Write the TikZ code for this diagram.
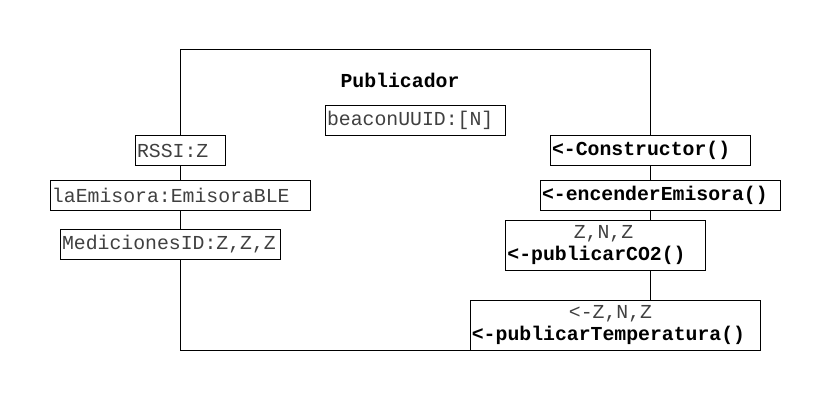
\documentclass[tikz,border=0pt]{standalone}
\usepackage{fontspec}
\newfontfamily\cour{Liberation Mono}
\begin{document}
\begin{tikzpicture}[x=1pt,y=-1pt,
  frame/.style={draw=black, line width=1pt},
  box/.style={draw=black, fill=white, line width=1pt, anchor=north west,
    inner xsep=1.5pt, inner ysep=0pt, minimum height=30pt,
    font=\cour\fontsize{19.8}{22}\selectfont, text=black!75},
  lbox/.style={box, align=left},
  cbox/.style={box, align=center, inner xsep=0pt, minimum height=50pt},
  bt/.style={text=black},
  title/.style={font=\cour\bfseries\fontsize{19.8}{22}\selectfont, text=black}]
\useasboundingbox (0,0) rectangle (831,401);
% container
\coordinate (tl) at (180,50);
\coordinate (br) at (650,350);
\draw[frame] (tl) rectangle (br);
\node[title] (ttl) at (400,80) {Publicador};
% attribute boxes
\node[lbox, text width=87pt] (rssi) at (135,135) {RSSI:Z};
\node[lbox, text width=257pt] (emi) at (50,180) {laEmisora:EmisoraBLE};
\node[lbox, text width=217pt] (med) at (60,229) {MedicionesID:Z,Z,Z};
\node[lbox, text width=177pt] (uuid) at (325,105) {beaconUUID:[N]};
% method boxes
\node[lbox, text width=197pt, bt] (ctor) at (550,135) {\bfseries <-Constructor()};
\node[lbox, text width=237pt, bt] (enc) at (540,180) {\bfseries <-encenderEmisora()};
\node[cbox, minimum width=200pt] (co2) at (505,220) {Z,N,Z\hspace*{4pt}\\{\color{black}\bfseries <-publicarCO2()\hspace*{18pt}}};
\node[cbox, minimum width=290pt] (temp) at (470,300) {<-Z,N,Z\hspace*{10pt}\\{\color{black}\bfseries <-publicarTemperatura()\hspace*{14pt}}};
\end{tikzpicture}
\end{document}
